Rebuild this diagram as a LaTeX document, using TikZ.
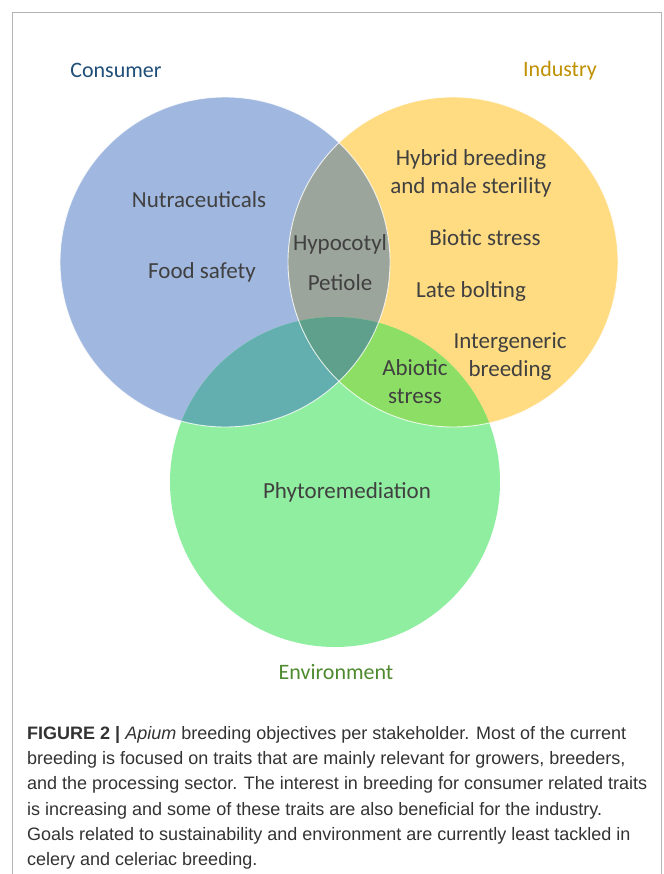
\documentclass[tikz,border=0pt]{standalone}
\usepackage{fontspec}
\setmainfont{Carlito}
\newfontfamily\capfont{Liberation Sans}
\definecolor{cblue}{HTML}{A0B8E0}
\definecolor{cyellow}{HTML}{FFDC82}
\definecolor{cgreen}{HTML}{90EEA0}
\definecolor{cby}{HTML}{9CA59C}
\definecolor{cbg}{HTML}{63AEAE}
\definecolor{cyg}{HTML}{8CDF64}
\definecolor{call}{HTML}{5FA08C}
\definecolor{txt}{HTML}{404040}
\definecolor{captxt}{HTML}{333333}
\definecolor{consc}{HTML}{1F4E79}
\definecolor{indc}{HTML}{BF9000}
\definecolor{envc}{HTML}{4E8A2E}
\definecolor{framec}{HTML}{B4B4B4}
\begin{document}
\begin{tikzpicture}[x=1pt,y=-1pt,
  lbl/.style={text=txt, font=\fontsize{23}{28}\selectfont, inner sep=0pt, align=center},
  head/.style={font=\fontsize{22}{26}\selectfont, inner sep=0pt},
  rim/.style={draw=white, line width=0.9pt, draw opacity=0.8}]
\useasboundingbox (0,0) rectangle (663,874);
\fill[white] (0,0) rectangle (663,874);
\draw[framec, line width=1.5pt] (12.5,880) -- (12.5,12.5) -- (661.5,12.5) -- (661.5,880);
\coordinate (C) at (225,262);
\coordinate (I) at (453,262);
\coordinate (E) at (335,482);
% base circles
\fill[cblue] (C) circle[radius=165pt];
\fill[cyellow] (I) circle[radius=165pt];
\fill[cgreen] (E) circle[radius=165pt];
% pairwise overlaps
\begin{scope}
  \clip (C) circle[radius=165pt];
  \fill[cby] (I) circle[radius=165pt];
  \fill[cbg] (E) circle[radius=165pt];
\end{scope}
\begin{scope}
  \clip (I) circle[radius=165pt];
  \fill[cyg] (E) circle[radius=165pt];
\end{scope}
\begin{scope}
  \clip (C) circle[radius=165pt];
  \clip (I) circle[radius=165pt];
  \fill[call] (E) circle[radius=165pt];
\end{scope}
% white rims
\draw[rim] (C) circle[radius=165pt];
\draw[rim] (I) circle[radius=165pt];
% headings
\node[head, text=consc] (hcons) at (116,70) {Consumer};
\node[head, text=indc] (hind) at (560,71) {Industry};
\node[head, text=envc] (henv) at (336,672) {Environment};
% labels
\node[lbl] (nutra) at (199,200) {Nutraceuticals};
\node[lbl] (food) at (202,272) {Food safety};
\node[lbl] (hypo) at (340,244) {Hypocotyl};
\node[lbl] (pet) at (340,283) {Petiole};
\node[lbl] (hyb) at (471,173) {Hybrid breeding\\and male sterility};
\node[lbl] (bio) at (485,238) {Biotic stress};
\node[lbl] (late) at (471,291) {Late bolting};
\node[lbl] (inter) at (510,357) {Intergeneric\\breeding};
\node[lbl] (abio) at (415,382) {Abiotic\\stress};
\node[lbl] (phyto) at (347,492) {Phytoremediation};
% caption
\node[anchor=north west, inner sep=0pt, align=left, text=captxt,
  font=\capfont\fontsize{18}{25.3}\selectfont] (cap) at (27,726)
{{\bfseries FIGURE 2 |} \textit{Apium} breeding objectives per stakeholder. Most of the current\\
breeding is focused on traits that are mainly relevant for growers, breeders,\\
and the processing sector. The interest in breeding for consumer related traits\\
is increasing and some of these traits are also beneficial for the industry.\\
Goals related to sustainability and environment are currently least tackled in\\
celery and celeriac breeding.};
\end{tikzpicture}
\end{document}
